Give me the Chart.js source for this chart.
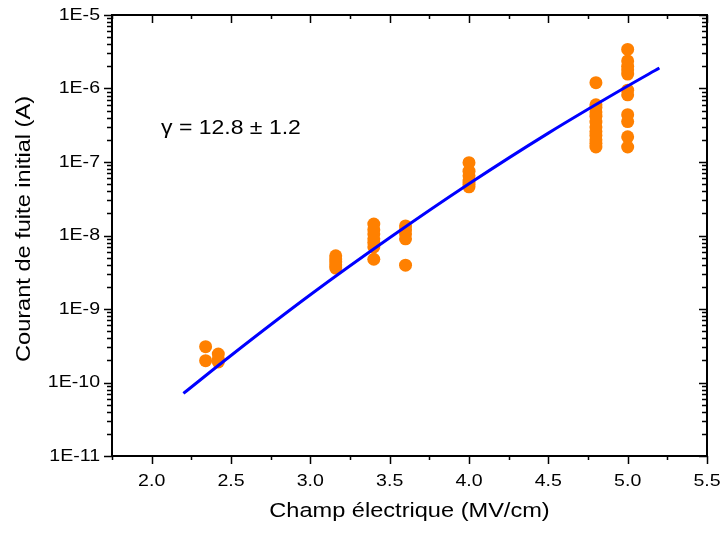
<!DOCTYPE html>
<html>
<head>
<meta charset="utf-8">
<script src="https://cdn.jsdelivr.net/npm/chart.js@4/dist/chart.umd.min.js"></script>
<style>
  html, body { margin: 0; padding: 0; background: #fff; }
  #wrap { width: 720px; height: 533px; }
</style>
</head>
<body>
<div id="wrap"><canvas id="leakChart" width="720" height="533"></canvas></div>
<script>
// Measured leakage current vs electric field
const fields = [2.34, 2.42, 3.16, 3.4, 3.6, 4.0, 4.8, 5.0];
const currents = [
  [3.07e-10, 1.98e-10],
  [2.44e-10, 2.1e-10, 1.9e-10],
  [5.3e-9, 4.8e-9, 4.4e-9, 4.0e-9, 3.6e-9],
  [1.43e-8, 1.2e-8, 1.05e-8, 9.0e-9, 8.0e-9, 7.0e-9, 4.75e-9],
  [1.35e-8, 1.2e-8, 1.05e-8, 9.0e-9, 3.95e-9],
  [9.8e-8, 7.5e-8, 6.5e-8, 5.5e-8, 5.0e-8, 4.6e-8],
  [1.2e-6, 6.0e-7, 5.5e-7, 4.8e-7, 4.2e-7, 3.5e-7, 3.0e-7, 2.6e-7, 2.3e-7, 2.0e-7, 1.8e-7, 1.6e-7],
  [3.4e-6, 2.37e-6, 2.0e-6, 1.8e-6, 1.57e-6, 9.5e-7, 8.2e-7, 4.4e-7, 3.55e-7, 2.2e-7, 1.6e-7]
];

// Fit curve
const fitFields = [2.2, 2.5, 3.0, 3.5, 4.0, 4.5, 5.0, 5.2];
const fitCurrents = [7.1e-11, 2.33e-10, 1.56e-9, 9.3e-9, 5.05e-8, 2.47e-7, 1.08e-6, 1.9e-6];

// Axis ticks
const xTicks = [2.0, 2.5, 3.0, 3.5, 4.0, 4.5, 5.0, 5.5];
const xMinorTicks = [1.75, 2.25, 2.75, 3.25, 3.75, 4.25, 4.75, 5.25];
const yTicks = [1e-11, 1e-10, 1e-9, 1e-8, 1e-7, 1e-6, 1e-5];
const yTickLabels = ['1E-11', '1E-10', '1E-9', '1E-8', '1E-7', '1E-6', '1E-5'];

const annotationText = 'γ = 12.8 ± 1.2';
const xTitle = 'Champ électrique (MV/cm)';
const yTitle = 'Courant de fuite initial (A)';

const FONT = '"Liberation Sans", Arial, sans-serif';
const STRETCH = 1.15; // the original text is a bit wider than Arial

const scatterPoints = [];
fields.forEach((f, i) => {
  currents[i].forEach(c => scatterPoints.push({ x: f, y: c }));
});
const fitPoints = fitFields.map((f, i) => ({ x: f, y: fitCurrents[i] }));

// text drawn slightly stretched horizontally
function wideText(ctx, text, x, y, align, rotate) {
  ctx.save();
  ctx.translate(x, y);
  if (rotate) ctx.rotate(-Math.PI / 2);
  ctx.scale(STRETCH, 1);
  ctx.textAlign = align;
  ctx.fillText(text, 0, 0);
  ctx.restore();
}

// Draws frame, ticks (Origin style), labels, titles and annotation
const frameAxes = {
  id: 'frameAxes',
  afterDraw(chart) {
    const { ctx, chartArea: a, scales } = chart;
    const xs = scales.x, ys = scales.y;
    ctx.save();
    ctx.strokeStyle = '#000';
    ctx.fillStyle = '#000';
    ctx.lineWidth = 2;
    ctx.strokeRect(a.left, a.top, a.right - a.left, a.bottom - a.top);

    ctx.lineWidth = 1.5;
    ctx.beginPath();
    // x ticks: bottom outward, top inward
    xTicks.forEach(v => {
      const px = Math.round(xs.getPixelForValue(v)) + 0.5;
      ctx.moveTo(px, a.bottom); ctx.lineTo(px, a.bottom + 8);
      ctx.moveTo(px, a.top); ctx.lineTo(px, a.top + 8);
    });
    xMinorTicks.forEach(v => {
      const px = Math.round(xs.getPixelForValue(v)) + 0.5;
      ctx.moveTo(px, a.bottom); ctx.lineTo(px, a.bottom + 4);
      ctx.moveTo(px, a.top); ctx.lineTo(px, a.top + 4);
    });
    // y ticks: left outward, right inward
    yTicks.forEach((v, i) => {
      const py = Math.round(ys.getPixelForValue(v)) + 0.5;
      ctx.moveTo(a.left - 8, py); ctx.lineTo(a.left, py);
      ctx.moveTo(a.right, py); ctx.lineTo(a.right - 8, py);
      if (i < yTicks.length - 1) {
        for (let m = 2; m <= 9; m++) {
          const pm = Math.round(ys.getPixelForValue(v * m)) + 0.5;
          ctx.moveTo(a.left - 5, pm); ctx.lineTo(a.left, pm);
          ctx.moveTo(a.right, pm); ctx.lineTo(a.right - 5, pm);
        }
      }
    });
    ctx.stroke();

    // tick labels
    ctx.font = '17px ' + FONT;
    ctx.textBaseline = 'middle';
    xTicks.forEach(v => {
      wideText(ctx, v.toFixed(1), xs.getPixelForValue(v), a.bottom + 25, 'center');
    });
    yTicks.forEach((v, i) => {
      wideText(ctx, yTickLabels[i], a.left - 12, ys.getPixelForValue(v), 'right');
    });

    // axis titles
    ctx.font = '20.5px ' + FONT;
    wideText(ctx, xTitle, (a.left + a.right) / 2, 511, 'center');
    wideText(ctx, yTitle, 24, 229, 'center', true);

    // annotation
    ctx.font = '20px ' + FONT;
    wideText(ctx, annotationText, 161, 128, 'left');
    ctx.restore();
  }
};

const ctx = document.getElementById('leakChart').getContext('2d');
const leakChart = new Chart(ctx, {
  type: 'scatter',
  data: {
    datasets: [
      {
        label: 'Fit',
        type: 'line',
        data: fitPoints,
        borderColor: '#0000FF',
        borderWidth: 3,
        pointRadius: 0,
        fill: false,
        cubicInterpolationMode: 'monotone',
        showLine: true
      },
      {
        label: 'Mesures',
        data: scatterPoints,
        backgroundColor: '#FF8000',
        borderWidth: 0,
        pointRadius: 6.5,
        pointHoverRadius: 6.5
      }
    ]
  },
  options: {
    responsive: false,
    animation: false,
    layout: { padding: { left: 112, right: 13, top: 15, bottom: 77 } },
    plugins: {
      legend: { display: false },
      tooltip: { enabled: false }
    },
    scales: {
      x: { type: 'linear', min: 1.75, max: 5.5, display: false },
      y: { type: 'logarithmic', min: 1e-11, max: 1e-5, display: false }
    }
  },
  plugins: [frameAxes]
});
</script>
</body>
</html>
